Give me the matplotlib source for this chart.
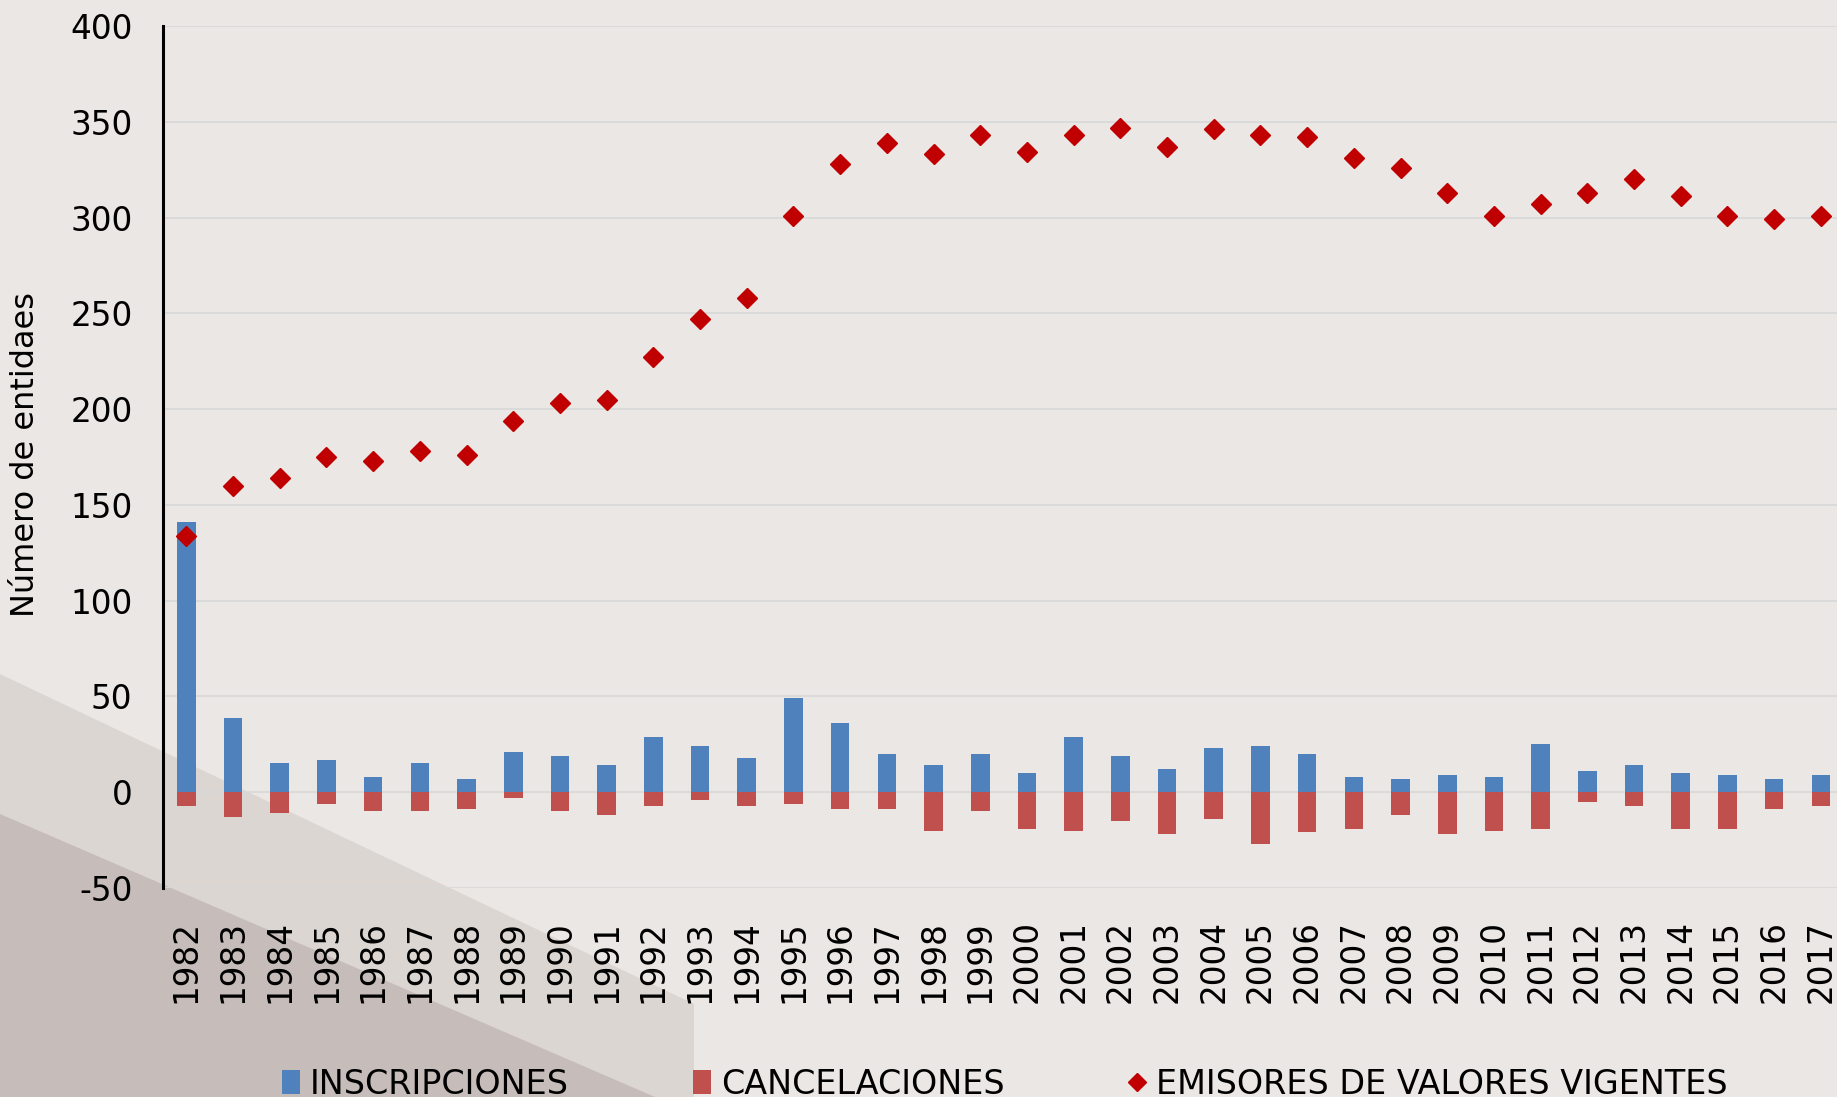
import matplotlib
matplotlib.use("Agg")
import matplotlib.pyplot as plt
import numpy as np
from matplotlib.patches import Polygon

# Data
years = [str(y) for y in range(1982, 2018)]
inscripciones = [141, 39, 15, 17, 8, 15, 7, 21, 19, 14, 29, 24, 18, 49,
                 36, 20, 14, 20, 10, 29, 19, 12, 23, 24, 20, 8, 7, 9, 8,
                 25, 11, 14, 10, 9, 7, 9]
cancelaciones = [-7, -13, -11, -6, -10, -10, -9, -3, -10, -12, -7, -4, -7, -6,
                 -9, -9, -20, -10, -19, -20, -15, -22, -14, -27, -21, -19,
                 -12, -22, -20, -19, -5, -7, -19, -19, -9, -7]
emisores = [134, 160, 164, 175, 173, 178, 176, 194, 203, 205, 227, 247, 258,
            301, 328, 339, 333, 343, 334, 343, 347, 337, 346, 343, 342, 331,
            326, 313, 301, 307, 313, 320, 311, 301, 299, 301]

yticks = list(range(-50, 401, 50))

BG = "#ebe7e4"
BLUE = "#4f81bd"
RED = "#c0504d"
DARKRED = "#c00000"
GRID = "#d9d9d9"

plt.rcParams["font.family"] = "DejaVu Sans"
plt.rcParams["axes.unicode_minus"] = False

W, H = 1837, 1097
fig = plt.figure(figsize=(W / 100, H / 100), dpi=100, facecolor=BG)


def px(x, y):
    return (x / W, 1 - y / H)


# soft diagonal shading in the lower left corner
light = Polygon([px(0, 674), px(694, 1004), px(694, H), px(0, H)],
                closed=True, transform=fig.transFigure, facecolor="#dbd6d2",
                edgecolor="none", zorder=-5)
dark = Polygon([px(0, 814), px(655, H), px(0, H)],
               closed=True, transform=fig.transFigure, facecolor="#c6bdba",
               edgecolor="none", zorder=-4)
fig.add_artist(light)
fig.add_artist(dark)

ax = fig.add_axes([163 / W, (H - 888) / H, 36 * 46.7 / W, 862 / H])
ax.set_facecolor("none")

x = np.arange(len(years))
b1 = ax.bar(x, inscripciones, width=0.4, color=BLUE, zorder=3,
            label="INSCRIPCIONES")
b2 = ax.bar(x, cancelaciones, width=0.4, color=RED, zorder=3,
            label="CANCELACIONES")
ln, = ax.plot(x, emisores, linestyle="none", marker="D", markersize=10,
              color=DARKRED, zorder=4, label="EMISORES DE VALORES VIGENTES")

ax.set_xlim(-0.5, len(years) - 0.5)
ax.set_ylim(-50, 400)
ax.set_yticks(yticks)
ax.set_xticks(x)
ax.set_xticklabels(years, rotation=90)
ax.tick_params(axis="both", length=0, labelsize=23.5)
ax.tick_params(axis="y", pad=22)
ax.tick_params(axis="x", pad=23)

ax.grid(axis="y", color=GRID, linewidth=1.3, zorder=0)
ax.set_axisbelow(True)
for s in ["top", "right", "bottom"]:
    ax.spines[s].set_visible(False)
ax.spines["left"].set_color("black")
ax.spines["left"].set_linewidth(2.2)
ax.spines["left"].set_zorder(5)

fig.text(26 / W, 1 - 455 / H, "Número de entidaes", rotation=90,
         ha="center", va="center", fontsize=23)

fig.legend(handles=[b1, b2, ln], loc="center",
           bbox_to_anchor=(0.547, 1 - 1084 / H), ncol=3, frameon=False,
           fontsize=24, handlelength=0.55, handleheight=0.75,
           handletextpad=0.3, columnspacing=3.7, markerscale=0.9)

fig.savefig("out.png", dpi=100, facecolor=BG)
